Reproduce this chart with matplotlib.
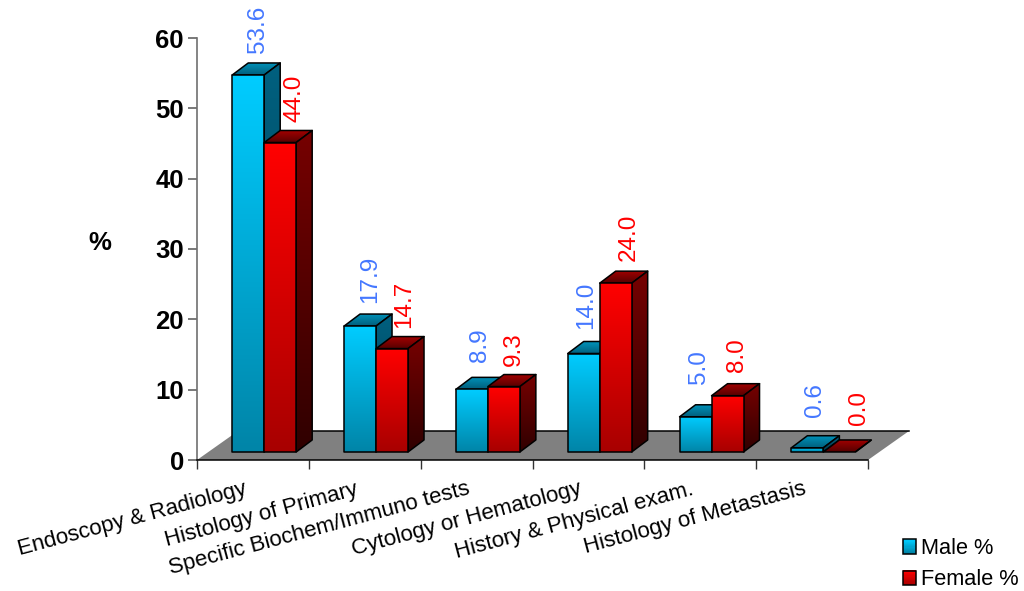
import numpy as np
import matplotlib
matplotlib.use('Agg')
import matplotlib.pyplot as plt
from matplotlib.colors import LinearSegmentedColormap
from matplotlib.legend_handler import HandlerBase
from matplotlib.patches import Polygon, Rectangle
from matplotlib.transforms import ScaledTranslation

plt.rcParams['font.family'] = ['Liberation Sans', 'DejaVu Sans']

categories = ['Endoscopy & Radiology', 'Histology of Primary', 'Specific Biochem/Immuno tests',
              'Cytology or Hematology', 'History & Physical exam.', 'Histology of Metastasis']
male = [53.6, 17.9, 8.9, 14.0, 5.0, 0.6]
female = [44.0, 14.7, 9.3, 24.0, 8.0, 0.0]
series_names = ['Male %', 'Female %']

# colours: front top/bottom, side top/bottom, top back/front
male_cols = ['#00ccff', '#0085a8', '#00607f', '#003c50', '#0095bd', '#005f7d']
female_cols = ['#ff0000', '#a80000', '#760000', '#300000', '#a50000', '#560000']
label_cols = ['#4477ff', '#ff0000']

# the value labels were moved by hand in the original (pixels: right, up)
male_nudge = [(2, 1), (2, 2), (0, 6), (-6, 3), (-5, 12), (0, 10)]
female_nudge = [(6, -1), (4, 0), (2, 0), (5, 1), (1, 3), (12, 6)]

# the 3D look, in data units (x: categories, y: percent)
floor_dx, floor_dy = 0.367, 4.125
base_dx, base_y = 0.101, 1.14
bar_w = 0.286
depth_dx, depth_dy = 0.143, 1.71

fig = plt.figure(figsize=(10.24, 5.91), dpi=100)
ax = fig.add_axes([197 / 1024, 1 - 460 / 591, 671 / 1024, 422 / 591])


def grad_poly(pts, c_top, c_bot, z):
    # polygon filled with a vertical gradient, black outline
    cmap = LinearSegmentedColormap.from_list('g', [c_bot, c_top])
    xs, ys = zip(*pts)
    poly = Polygon(pts, closed=True, fc='none', ec='black', lw=1.1, zorder=z + 0.5,
                   clip_on=False, joinstyle='round')
    ax.add_patch(poly)
    im = ax.imshow(np.linspace(1, 0, 64).reshape(-1, 1), cmap=cmap, aspect='auto',
                   extent=[min(xs), max(xs), min(ys), max(ys)], zorder=z,
                   interpolation='bilinear')
    im.set_clip_path(poly)


def bar3d(x, val, cols, z):
    y0, y1 = base_y, base_y + val
    xr = x + bar_w
    dx, dy = depth_dx, depth_dy
    grad_poly([(x, y1), (xr, y1), (xr + dx, y1 + dy), (x + dx, y1 + dy)], cols[4], cols[5], z)
    grad_poly([(xr, y0), (xr + dx, y0 + dy), (xr + dx, y1 + dy), (xr, y1)], cols[2], cols[3], z + 1)
    if val > 0:
        grad_poly([(x, y0), (xr, y0), (xr, y1), (x, y1)], cols[0], cols[1], z + 2)


# floor
n = len(categories)
ax.add_patch(Polygon([(0, 0), (n, 0), (n + floor_dx, floor_dy), (floor_dx, floor_dy)],
                     closed=True, fc='#808080', ec='none', zorder=1, clip_on=False))
ax.plot([floor_dx, n + floor_dx], [floor_dy, floor_dy], color='black', lw=1.1, zorder=1.2,
        clip_on=False)

for i in range(n):
    x_left = i + 0.5 + base_dx - bar_w
    for j, (vals, cols, nudge) in enumerate(zip([male, female], [male_cols, female_cols],
                                                [male_nudge, female_nudge])):
        x = x_left + j * bar_w
        bar3d(x, vals[i], cols, 2 + i * 10 + j * 4)
        ax.annotate('%.1f' % vals[i], (x + (bar_w + depth_dx) / 2, base_y + vals[i] + depth_dy),
                    xytext=(nudge[i][0], 9 + nudge[i][1]), textcoords='offset pixels',
                    rotation=90, ha='center', va='bottom', color=label_cols[j], fontsize=17.5,
                    zorder=100, annotation_clip=False)

ax.set_xlim(0, n)
ax.set_ylim(0, 60)
ax.set_facecolor('none')
for s in ['top', 'right']:
    ax.spines[s].set_visible(False)
ax.spines['left'].set_color('#707070')
ax.spines['left'].set_linewidth(1.2)
ax.spines['bottom'].set_color('black')
ax.spines['bottom'].set_linewidth(1.1)
ax.spines['bottom'].set_zorder(90)

ax.set_yticks(np.arange(0, 61, 10))
ax.tick_params(axis='y', length=6.5, width=1.1, color='#555555', pad=3, labelsize=18.5)
for t in ax.get_yticklabels():
    t.set_fontweight('bold')

ax.set_xticks(np.arange(n) + 0.5)
ax.set_xticklabels(categories, rotation=15, ha='right', rotation_mode='anchor', fontsize=16)
ax.tick_params(axis='x', which='major', length=0, pad=13.5)
ax.set_xticks(np.arange(n + 1), minor=True)
ax.tick_params(axis='x', which='minor', length=6.5, width=1.0, color='#333333')
shift = ScaledTranslation(-9.5 / 100, 0, fig.dpi_scale_trans)
for t in ax.get_xticklabels():
    t.set_transform(t.get_transform() + shift)

ax.set_ylabel('%', rotation=0, fontsize=18.5, fontweight='bold')
ax.yaxis.set_label_coords((100 - 197) / 671, (460 - 243) / 422)
ax.yaxis.label.set_verticalalignment('center')
ax.yaxis.label.set_horizontalalignment('center')


class GradHandle(HandlerBase):
    def __init__(self, c_top, c_bot):
        super().__init__()
        self.c_top, self.c_bot = c_top, c_bot

    def create_artists(self, legend, orig, xd, yd, w, h, fontsize, trans):
        cmap = LinearSegmentedColormap.from_list('g', [self.c_bot, self.c_top])
        out = []
        steps = 12
        for k in range(steps):
            out.append(Rectangle((-xd, -yd + h * k / steps), w, h / steps + 0.2, fc=cmap(k / (steps - 1)),
                                 ec='none', transform=trans))
        out.append(Rectangle((-xd, -yd), w, h, fc='none', ec='black', lw=1.1, transform=trans))
        return out


h1 = Rectangle((0, 0), 1, 1)
h2 = Rectangle((0, 0), 1, 1)
leg = fig.legend([h1, h2], series_names, loc='lower left', bbox_to_anchor=(896 / 1024, 1 - 597 / 591),
                 frameon=False, fontsize=15.7, handlelength=0.64, handleheight=0.64,
                 handletextpad=0.2, labelspacing=0.48, borderaxespad=0, borderpad=0.3,
                 handler_map={h1: GradHandle(male_cols[0], male_cols[1]),
                              h2: GradHandle(female_cols[0], female_cols[1])})

fig.savefig('out.png', dpi=100)
